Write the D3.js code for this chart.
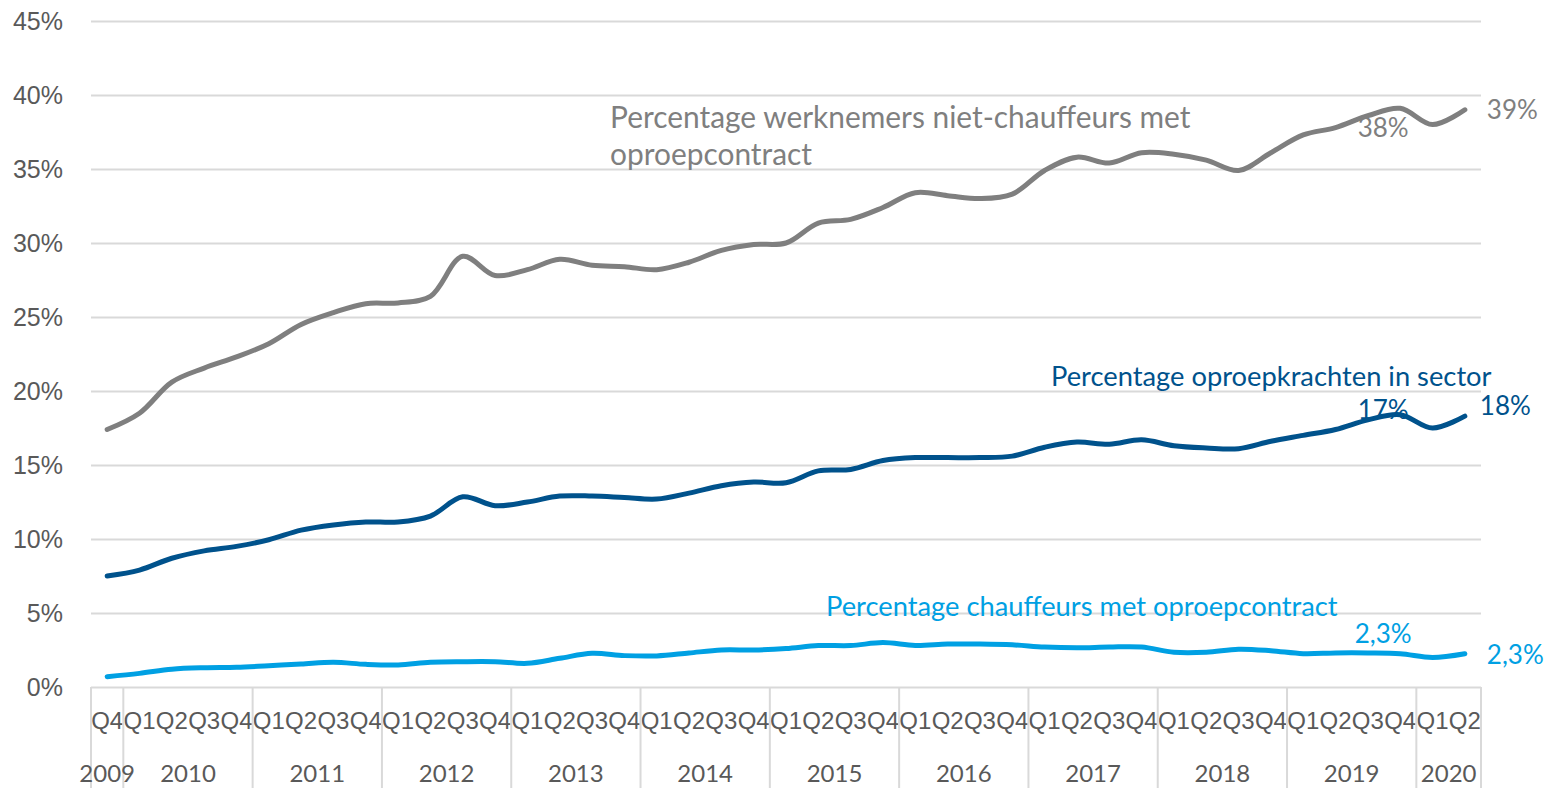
<!doctype html>
<html>
<head>
<meta charset="utf-8">
<style>
  body { margin: 0; background: #fff; }
  svg { font-family: Lato, "Open Sans", sans-serif; }
  .grid line { stroke: #d9d9d9; stroke-width: 2; }
  .grid .domain { display: none; }
  .ytick text { fill: #595959; font-size: 25px; }
  .qtick text { fill: #595959; font-size: 24px; }
  .year { fill: #595959; font-size: 24px; }
  .sep { stroke: #d9d9d9; stroke-width: 2; }
  .line { fill: none; stroke-width: 5; stroke-linecap: round; }
</style>
<script src="https://d3js.org/d3.v7.min.js"></script>
</head>
<body>
<svg width="1556" height="788"></svg>
<script>
// periods on the x axis
var periods = ["2009-Q4",
  "2010-Q1","2010-Q2","2010-Q3","2010-Q4",
  "2011-Q1","2011-Q2","2011-Q3","2011-Q4",
  "2012-Q1","2012-Q2","2012-Q3","2012-Q4",
  "2013-Q1","2013-Q2","2013-Q3","2013-Q4",
  "2014-Q1","2014-Q2","2014-Q3","2014-Q4",
  "2015-Q1","2015-Q2","2015-Q3","2015-Q4",
  "2016-Q1","2016-Q2","2016-Q3","2016-Q4",
  "2017-Q1","2017-Q2","2017-Q3","2017-Q4",
  "2018-Q1","2018-Q2","2018-Q3","2018-Q4",
  "2019-Q1","2019-Q2","2019-Q3","2019-Q4",
  "2020-Q1","2020-Q2"];

// percentages
var nietChauffeurs = [17.4, 18.5, 20.6, 21.55, 22.3, 23.2, 24.5, 25.3, 25.9, 25.95,
  26.4, 29.1, 27.8, 28.2, 28.9, 28.5, 28.4, 28.2, 28.7, 29.5,
  29.9, 30.0, 31.35, 31.6, 32.4, 33.4, 33.2, 33.0, 33.3, 34.9,
  35.8, 35.4, 36.1, 36.0, 35.6, 34.9, 36.1, 37.3, 37.8, 38.6,
  39.1, 38.0, 39.0];
var sector = [7.5, 7.9, 8.7, 9.2, 9.5, 9.95, 10.6, 10.95, 11.15, 11.15,
  11.55, 12.85, 12.25, 12.5, 12.9, 12.9, 12.8, 12.7, 13.1, 13.6,
  13.85, 13.8, 14.6, 14.7, 15.3, 15.5, 15.5, 15.5, 15.6, 16.2,
  16.55, 16.4, 16.7, 16.3, 16.15, 16.1, 16.6, 17.0, 17.4, 18.05,
  18.4, 17.5, 18.3];
var chauffeurs = [0.7, 0.92, 1.2, 1.3, 1.33, 1.44, 1.55, 1.67, 1.53, 1.49,
  1.67, 1.71, 1.71, 1.6, 1.94, 2.28, 2.12, 2.1, 2.3, 2.5,
  2.5, 2.6, 2.8, 2.8, 3.0, 2.8, 2.9, 2.9, 2.85, 2.7,
  2.65, 2.7, 2.7, 2.35, 2.35, 2.55, 2.45, 2.25, 2.3, 2.3,
  2.25, 2.0, 2.25];

var yTicks = [0, 5, 10, 15, 20, 25, 30, 35, 40, 45];

var seriesNames = ["Percentage werknemers niet-chauffeurs met oproepcontract",
  "Percentage oproepkrachten in sector",
  "Percentage chauffeurs met oproepcontract"];
var endLabels = ["39%", "18%", "2,3%"];
var midLabels = ["38%", "17%", "2,3%"];
var colors = ["#7f7f7f", "#00528c", "#00a0e3"];

var svg = d3.select("svg"),
    plotLeft = 91, plotRight = 1481, plotTop = 21, plotBottom = 687;

var x = d3.scaleBand().domain(periods).range([plotLeft, plotRight]),
    y = d3.scaleLinear().domain([0, 45]).range([plotBottom, plotTop]);
var cx = function(p) { return x(p) + x.bandwidth() / 2; };

// gridlines + y labels
svg.append("g")
   .attr("class", "grid ytick")
   .attr("transform", "translate(" + plotLeft + ",0)")
   .call(d3.axisLeft(y).tickValues(yTicks).tickSize(-(plotRight - plotLeft)).tickPadding(28)
         .tickFormat(function(d) { return d + "%"; }));

// quarter labels
svg.append("g")
   .attr("class", "qtick")
   .attr("transform", "translate(0," + plotBottom + ")")
   .call(d3.axisBottom(x).tickSize(0).tickPadding(25)
         .tickFormat(function(d) { return d.split("-")[1]; }))
   .call(function(g) { g.select(".domain").remove(); });

// year groups
var years = [];
periods.forEach(function(p) {
    var yr = p.split("-")[0];
    var last = years[years.length - 1];
    if (last && last.year == yr) last.items.push(p);
    else years.push({year: yr, items: [p]});
});

var seps = [plotLeft].concat(years.map(function(d) {
    return x(d.items[d.items.length - 1]) + x.bandwidth();
}));
svg.selectAll(".sep").data(seps).enter().append("line")
   .attr("class", "sep")
   .attr("x1", function(d) { return d; }).attr("x2", function(d) { return d; })
   .attr("y1", plotBottom).attr("y2", 788);

svg.selectAll(".year").data(years).enter().append("text")
   .attr("class", "year")
   .attr("text-anchor", "middle")
   .attr("x", function(d) { return (x(d.items[0]) + x(d.items[d.items.length - 1]) + x.bandwidth()) / 2; })
   .attr("y", 782)
   .text(function(d) { return d.year; });

// lines
var allSeries = [nietChauffeurs, sector, chauffeurs];
var line = d3.line()
    .x(function(d, i) { return cx(periods[i]); })
    .y(function(d) { return y(d); })
    .curve(d3.curveCatmullRom.alpha(0.5));

svg.selectAll(".line").data(allSeries).enter().append("path")
   .attr("class", "line")
   .attr("stroke", function(d, i) { return colors[i]; })
   .attr("d", line);

// end value labels
var lastP = periods[periods.length - 1];
var endDx = [22, 15, 22], endDy = [0, -10, 1];
svg.selectAll(".endlab").data(allSeries).enter().append("text")
   .attr("x", function(d, i) { return cx(lastP) + endDx[i]; })
   .attr("y", function(d, i) { return y(d[d.length - 1]) + endDy[i]; })
   .attr("dy", "0.35em")
   .attr("font-size", 26)
   .attr("fill", function(d, i) { return colors[i]; })
   .text(function(d, i) { return endLabels[i]; });

// labels at 2019-Q4
var midP = periods[periods.length - 3];
var midDy = [20, -5, -20];
svg.selectAll(".midlab").data(allSeries).enter().append("text")
   .attr("x", cx(midP) - 17)
   .attr("y", function(d, i) { return y(d[d.length - 3]) + midDy[i]; })
   .attr("dy", "0.35em")
   .attr("text-anchor", "middle")
   .attr("font-size", 26)
   .attr("fill", function(d, i) { return colors[i]; })
   .text(function(d, i) { return midLabels[i]; });

// series names
var t0 = svg.append("text").attr("font-size", 29.9).attr("fill", colors[0]);
t0.append("tspan").attr("x", 610).attr("y", 128).text("Percentage werknemers niet-chauffeurs met");
t0.append("tspan").attr("x", 610).attr("y", 165).text("oproepcontract");

svg.append("text").attr("font-size", 27.3).attr("fill", colors[1])
   .attr("x", 1051).attr("y", 386).text(seriesNames[1]);
svg.append("text").attr("font-size", 27.3).attr("fill", colors[2])
   .attr("x", 826).attr("y", 616).text(seriesNames[2]);
</script>
</body>
</html>
